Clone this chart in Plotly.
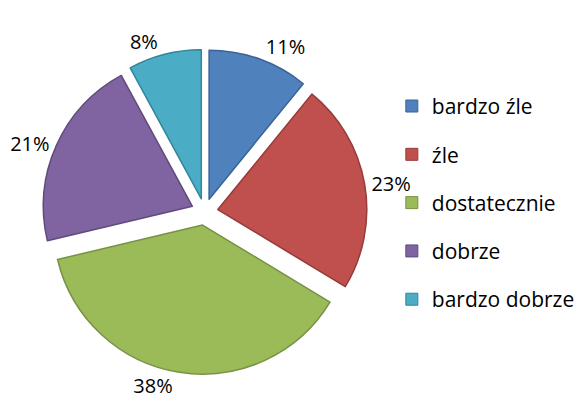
import plotly.graph_objects as go

categories = ["bardzo źle", "źle", "dostatecznie", "dobrze", "bardzo dobrze"]
values = [11, 23, 38, 21, 8]
colors = ["#4F81BD", "#C0504D", "#9BBB59", "#8064A2", "#4BACC6"]
edge_colors = ["#3A6397", "#953B39", "#779145", "#5F4B7A", "#31859C"]

FONT = "'Open Sans', 'Noto Sans', sans-serif"

fig = go.Figure()
fig.add_trace(go.Pie(
    labels=categories,
    values=values,
    sort=False,
    direction="clockwise",
    rotation=0,
    pull=[0.09] * len(values),
    marker=dict(colors=colors, line=dict(color=edge_colors, width=1.5)),
    textinfo="percent",
    texttemplate="%{percent:.0%}",
    textposition="outside",
    outsidetextfont=dict(family=FONT, size=20, color="#000000"),
    showlegend=False,
    domain=dict(x=[0.058, 0.613], y=[0.098, 0.898]),
    hoverinfo="label+percent",
))

# legend entries (one per category) so the spacing can match the reference
for name, col, ec in zip(categories, colors, edge_colors):
    fig.add_trace(go.Scatter(
        x=[None], y=[None], mode="markers", name=name,
        legendgroup=name,
        marker=dict(symbol="square", size=12, color=col, line=dict(color=ec, width=1)),
        hoverinfo="skip",
    ))

fig.update_layout(
    width=586, height=406,
    margin=dict(l=0, r=0, t=0, b=0, autoexpand=False),
    paper_bgcolor="white", plot_bgcolor="white",
    xaxis=dict(visible=False), yaxis=dict(visible=False),
    legend=dict(
        x=0.655, y=0.52, xanchor="left", yanchor="middle",
        font=dict(family=FONT, size=21, color="#000000"),
        tracegroupgap=18, itemwidth=30,
        bgcolor="rgba(0,0,0,0)",
    ),
    font=dict(family=FONT),
)

fig.write_html("out.html")
